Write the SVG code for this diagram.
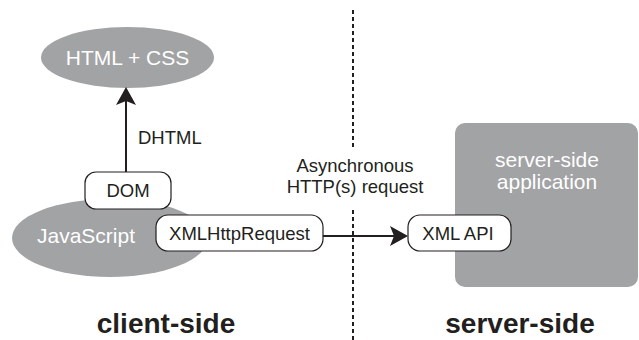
<svg xmlns="http://www.w3.org/2000/svg" width="639" height="340" viewBox="0 0 639 340">
  <style>
    text { font-family: "Liberation Sans", Arial, sans-serif; fill: #231f20; }
    .w { fill: #ffffff; }
    .shape { fill: #a2a3a5; }
    .box { fill: #ffffff; stroke: #231f20; stroke-width: 1.2; }
    .lbl { font-size: 18.5px; }
    .big { font-size: 21px; }
    .side { font-size: 28px; font-weight: bold; }
    .conn { stroke: #231f20; stroke-width: 2; fill: none; }
  </style>
  <defs>
    <marker id="arrow" viewBox="0 0 18 20" markerWidth="18" markerHeight="20" refX="4" refY="10" orient="auto" markerUnits="userSpaceOnUse">
      <path d="M0,0 L18,10 L0,20 L4,10 Z" fill="#231f20"/>
    </marker>
  </defs>
  <rect width="639" height="340" fill="#ffffff"/>

  <g id="divider">
    <line x1="353" y1="10" x2="353" y2="148" stroke="#231f20" stroke-width="2" stroke-dasharray="4,3"/>
    <line x1="353" y1="210" x2="353" y2="340" stroke="#231f20" stroke-width="2" stroke-dasharray="4,3"/>
  </g>

  <g id="html-css">
    <ellipse class="shape" cx="127.5" cy="57.5" rx="86.5" ry="30.5"/>
    <text class="big w" x="127.5" y="64.5" text-anchor="middle">HTML + CSS</text>
  </g>

  <g id="javascript">
    <ellipse class="shape" cx="110" cy="238" rx="98" ry="39"/>
    <text class="big w" x="86" y="243" text-anchor="middle">JavaScript</text>
  </g>

  <g id="server-app">
    <rect class="shape" x="455" y="123" width="183" height="164" rx="10"/>
    <text class="big w" x="547" y="167" text-anchor="middle">server-side</text>
    <text class="big w" x="547" y="189" text-anchor="middle">application</text>
  </g>

  <g id="dom">
    <rect class="box" x="85" y="172" width="86" height="37" rx="11"/>
    <text class="lbl" x="128" y="197" text-anchor="middle">DOM</text>
  </g>

  <g id="xhr">
    <rect class="box" x="156" y="215" width="167" height="36" rx="12"/>
    <text class="lbl" x="239.5" y="240" text-anchor="middle">XMLHttpRequest</text>
  </g>

  <g id="xml-api">
    <rect class="box" x="408" y="215" width="103" height="36" rx="12"/>
    <text class="lbl" x="458" y="240" text-anchor="middle">XML API</text>
  </g>

  <g id="connectors">
    <line class="conn" x1="126" y1="172" x2="126" y2="101" marker-end="url(#arrow)"/>
    <text class="lbl" x="138" y="144">DHTML</text>
    <line class="conn" x1="323" y1="236" x2="394" y2="236" marker-end="url(#arrow)"/>
    <text class="lbl" x="355" y="172" text-anchor="middle">Asynchronous</text>
    <text class="lbl" x="355" y="193" text-anchor="middle">HTTP(s) request</text>
  </g>

  <g id="labels">
    <text class="side" x="166" y="333" text-anchor="middle">client-side</text>
    <text class="side" x="520" y="333" text-anchor="middle">server-side</text>
  </g>
</svg>
